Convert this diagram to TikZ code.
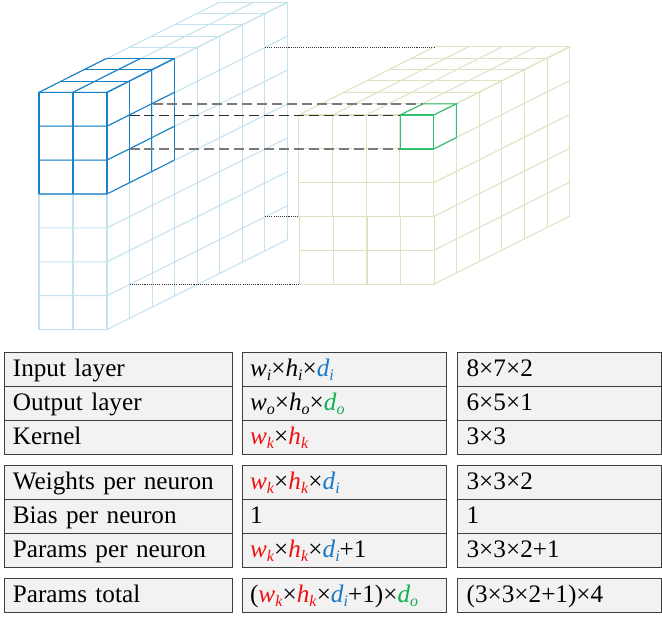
\documentclass[tikz,border=0pt]{standalone}
\usepackage{fontspec}
\setmainfont{Liberation Serif}
\definecolor{lblue}{HTML}{C4E2EE}
\definecolor{kblue}{HTML}{1A80C8}
\definecolor{lolive}{HTML}{DDE4C2}
\definecolor{kgreen}{HTML}{2FBE72}
\definecolor{cellgray}{HTML}{F2F2F2}
\definecolor{cellline}{HTML}{3F3F3F}
\definecolor{vred}{HTML}{F01010}
\definecolor{vblue}{HTML}{1878C8}
\definecolor{vgreen}{HTML}{10B050}
\newcommand{\vr}[2]{\textit{#1}\raisebox{-.35ex}{\fontsize{12}{13}\selectfont\textit{#2}}}
\newcommand{\tbl}[1]{\fontsize{18.9}{22}\selectfont #1}
\tikzset{
 gridblue/.style={draw=lblue,line width=.8pt},
 kernblue/.style={draw=kblue,line width=.82pt},
 gridolive/.style={draw=lolive,line width=.8pt},
 kerngreen/.style={draw=kgreen,line width=.8pt},
 dashlink/.style={draw=black!52,line width=1.1pt,dash pattern=on 7.5pt off 3.7pt},
 dashthin/.style={draw=black!82,line width=.85pt,dash pattern=on 7.5pt off 3.7pt},
 dotlink/.style={draw=black!80,line width=.7pt,dash pattern=on .8pt off .8pt},
 cell/.style={draw=cellline,fill=cellgray,line width=.95pt,anchor=north west,inner xsep=6.2pt,inner ysep=0pt,
   align=left,text height=13.75pt,text depth=3.25pt,minimum height=25.5pt,font=\tbl{}},
 colA/.style={cell,minimum width=171pt,text width=158.6pt},
 colB/.style={cell,inner xsep=5.6pt,minimum width=153pt,text width=141.8pt},
 colC/.style={cell,inner xsep=6.75pt,minimum width=153pt,text width=139.5pt}
}
\begin{document}
\begin{tikzpicture}[x=.75pt,y=-.75pt]
\useasboundingbox (0,0) rectangle (662,621);
% input volume
\foreach \j in {0,...,7}{
  \draw[gridblue] ({39},{92.3+33.9*\j}) -- ({107},{92.3+33.9*\j}) -- ({107+22.56*8},{92.3+33.9*\j-90});
}
\foreach \i in {0,1,2}{
  \draw[gridblue] ({39+34*\i},92.3) -- ({39+34*\i},329.6);
  \draw[gridblue] ({39+34*\i},92.3) -- ({39+34*\i+22.56*8},2.3);
}
\foreach \k in {1,...,8}{
  \draw[gridblue] ({39+22.56*\k},{92.3-11.25*\k}) -- ({107+22.56*\k},{92.3-11.25*\k}) -- ({107+22.56*\k},{329.6-11.25*\k});
}
% output volume
\foreach \j in {0,...,3}{
  \draw[gridolive] (298.7,{115+33.86*\j}) -- (433.7,{115+33.86*\j});
}
\foreach \j in {4,5}{
  \draw[gridolive] (299.5,{115+33.86*\j}) -- (434.5,{115+33.86*\j});
}
\foreach \j in {0,...,5}{
  \draw[gridolive] (433.7,{115+33.86*\j}) -- ({433.7+22.7*6},{115+33.86*\j-68.3});
}
\foreach \i in {0,...,4}{
  \draw[gridolive] ({298.7+33.75*\i},115) -- ({298.7+33.75*\i},216.7);
  \draw[gridolive] ({299.5+33.75*\i},216.7) -- ({299.5+33.75*\i},284.3);
  \draw[gridolive] ({298.7+33.75*\i},115) -- ({298.7+33.75*\i+22.7*6},46.7);
}
\foreach \k in {1,...,6}{
  \draw[gridolive] ({298.7+22.7*\k},{115-11.38*\k}) -- ({433.7+22.7*\k},{115-11.38*\k}) -- ({433.7+22.7*\k},{284.3-11.38*\k});
}
% kernel on the input
\foreach \j in {0,...,3}{
  \draw[kernblue] (39,{92.3+33.9*\j}) -- (107,{92.3+33.9*\j}) -- ({107+22.4*3},{92.3+33.9*\j-33.75});
}
\foreach \i in {0,1,2}{
  \draw[kernblue] ({39+34*\i},92.3) -- ({39+34*\i},194);
  \draw[kernblue] ({39+34*\i},92.3) -- ({39+34*\i+22.4*3},58.55);
}
\foreach \k in {1,2,3}{
  \draw[kernblue] ({39+22.4*\k},{92.3-11.25*\k}) -- ({107+22.4*\k},{92.3-11.25*\k}) -- ({107+22.4*\k},{194-11.25*\k});
}
% neuron on the output
\draw[kerngreen] (400.3,115) rectangle (433.7,149);
\draw[kerngreen] (400.3,115) -- (423,103.8) -- (456.4,103.8) -- (433.7,115);
\draw[kerngreen] (456.4,103.8) -- (456.4,137.6) -- (433.7,149);
% connectors
\coordinate (ka) at (152.5,104); \coordinate (oa) at (423,104);
\coordinate (kb) at (129.5,115.2);   \coordinate (ob) at (400.3,115.2);
\coordinate (kc) at (129.5,149);   \coordinate (oc) at (400.3,149);
\coordinate (ia) at (265,47);      \coordinate (ua) at (434.7,47);
\coordinate (ib) at (265,216.7);   \coordinate (ub) at (299,216.7);
\coordinate (ic) at (129.5,284.3); \coordinate (uc) at (299,284.3);
\draw[dashlink] (ka) -- (oa);
\draw[dashthin] (kb) -- (ob);
\draw[dashlink] (kc) -- (oc);
\draw[dotlink] (ia) -- (ua);
\draw[dotlink] (ib) -- (ub);
\draw[dotlink] (ic) -- (uc);
% table
\node[colA] (a1) at (4,352) {Input layer};
\node[colA] (a2) at (4,386) {Output layer};
\node[colA] (a3) at (4,420) {Kernel};
\node[colA] (a4) at (4,465) {Weights per neuron};
\node[colA] (a5) at (4,499) {Bias per neuron};
\node[colA] (a6) at (4,533) {Params per neuron};
\node[colA] (a7) at (4,578) {Params total};
\node[colB] (b1) at (242,352) {\vr{w}{i}×\vr{h}{i}×\textcolor{vblue}{\vr{d}{i}}};
\node[colB] (b2) at (242,386) {\vr{w}{o}×\vr{h}{o}×\textcolor{vgreen}{\vr{d}{o}}};
\node[colB] (b3) at (242,420) {\textcolor{vred}{\vr{w}{k}}×\textcolor{vred}{\vr{h}{k}}};
\node[colB] (b4) at (242,465) {\textcolor{vred}{\vr{w}{k}}×\textcolor{vred}{\vr{h}{k}}×\textcolor{vblue}{\vr{d}{i}}};
\node[colB] (b5) at (242,499) {1};
\node[colB] (b6) at (242,533) {\textcolor{vred}{\vr{w}{k}}×\textcolor{vred}{\vr{h}{k}}×\textcolor{vblue}{\vr{d}{i}}+1};
\node[colB] (b7) at (242,578) {(\textcolor{vred}{\vr{w}{k}}×\textcolor{vred}{\vr{h}{k}}×\textcolor{vblue}{\vr{d}{i}}+1)×\textcolor{vgreen}{\vr{d}{o}}};
\node[colC] (c1) at (457,352) {8×7×2};
\node[colC] (c2) at (457,386) {6×5×1};
\node[colC] (c3) at (457,420) {3×3};
\node[colC] (c4) at (457,465) {3×3×2};
\node[colC] (c5) at (457,499) {1};
\node[colC] (c6) at (457,533) {3×3×2+1};
\node[colC] (c7) at (457,578) {(3×3×2+1)×4};
\end{tikzpicture}
\end{document}
